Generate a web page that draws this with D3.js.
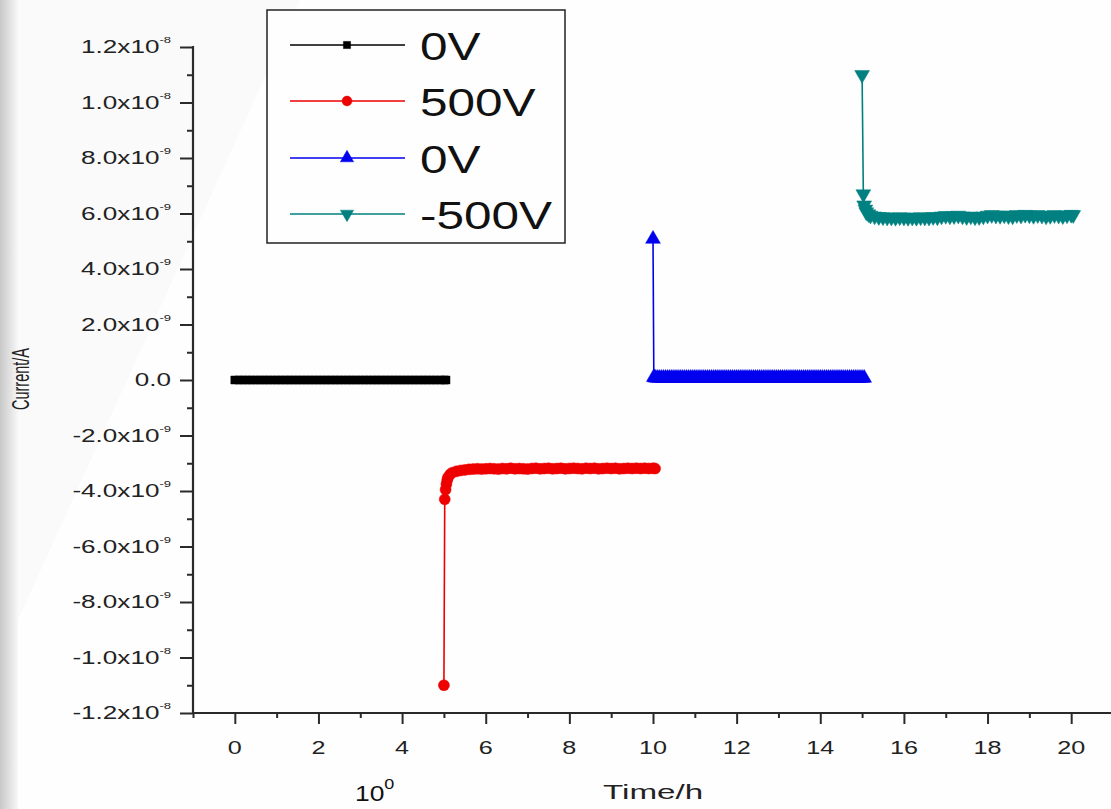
<!DOCTYPE html>
<html><head><meta charset="utf-8">
<script src="https://cdn.jsdelivr.net/npm/d3@7"></script>
<style>html,body{margin:0;padding:0;background:#fdfdfd;overflow:hidden}</style>
</head><body>
<script>
// ---------- DATA (current in nA, time in h) ----------
const seriesNames = ["0V","500V","0V","-500V"];
const seriesColors = ["#000000","#ee0000","#0000ee","#008080"];

const t0V_a = [0,0.1,0.2,0.3,0.4,0.5,0.6,0.7,0.8,0.9,1.0,1.1,1.2,1.3,1.4,1.5,1.6,1.7,1.8,1.9,2.0,2.1,2.2,2.3,2.4,2.5,2.6,2.7,2.8,2.9,3.0,3.1,3.2,3.3,3.4,3.5,3.6,3.7,3.8,3.9,4.0,4.1,4.2,4.3,4.4,4.5,4.6,4.7,4.8,4.9,5.0,5.05];
const i0V_a = [0,0,0,0,0,0,0,0,0,0,0,0,0,0,0,0,0,0,0,0,0,0,0,0,0,0,0,0,0,0,0,0,0,0,0,0,0,0,0,0,0,0,0,0,0,0,0,0,0,0,0,0];

const t500V = [5.0,5.02,5.04,5.06,5.08,5.1,5.15,5.2,5.3,5.4,5.5,5.6,5.7,5.8,5.9,6.0,6.1,6.2,6.3,6.4,6.5,6.6,6.7,6.8,6.9,7.0,7.1,7.2,7.3,7.4,7.5,7.6,7.7,7.8,7.9,8.0,8.1,8.2,8.3,8.4,8.5,8.6,8.7,8.8,8.9,9.0,9.1,9.2,9.3,9.4,9.5,9.6,9.7,9.8,9.9,10.0,10.05];
const i500V = [-11.0,-4.3,-3.95,-3.75,-3.6,-3.5,-3.4,-3.34,-3.29,-3.26,-3.24,-3.22,-3.21,-3.2,-3.21,-3.2,-3.19,-3.2,-3.21,-3.19,-3.2,-3.18,-3.2,-3.19,-3.2,-3.21,-3.19,-3.18,-3.2,-3.19,-3.18,-3.2,-3.19,-3.18,-3.2,-3.19,-3.18,-3.19,-3.2,-3.18,-3.19,-3.18,-3.2,-3.19,-3.18,-3.19,-3.18,-3.2,-3.19,-3.18,-3.19,-3.18,-3.19,-3.18,-3.19,-3.18,-3.19];

const t0V_b = [10.0,10.02,10.05,10.1,10.15,10.2,10.25,10.3,10.35,10.4,10.45,10.5,10.55,10.6,10.65,10.7,10.75,10.8,10.85,10.9,10.95,11.0,11.05,11.1,11.15,11.2,11.25,11.3,11.35,11.4,11.45,11.5,11.55,11.6,11.65,11.7,11.75,11.8,11.85,11.9,11.95,12.0,12.05,12.1,12.15,12.2,12.25,12.3,12.35,12.4,12.45,12.5,12.55,12.6,12.65,12.7,12.75,12.8,12.85,12.9,12.95,13.0,13.05,13.1,13.15,13.2,13.25,13.3,13.35,13.4,13.45,13.5,13.55,13.6,13.65,13.7,13.75,13.8,13.85,13.9,13.95,14.0,14.05,14.1,14.15,14.2,14.25,14.3,14.35,14.4,14.45,14.5,14.55,14.6,14.65,14.7,14.75,14.8,14.85,14.9,14.95,15.0,15.05];
const i0V_b = [5.08,0.1,0.08,0.07,0.07,0.07,0.07,0.07,0.07,0.07,0.07,0.07,0.07,0.07,0.07,0.07,0.07,0.07,0.07,0.07,0.07,0.07,0.07,0.07,0.07,0.07,0.07,0.07,0.07,0.07,0.07,0.07,0.07,0.07,0.07,0.07,0.07,0.07,0.07,0.07,0.07,0.07,0.07,0.07,0.07,0.07,0.07,0.07,0.07,0.07,0.07,0.07,0.07,0.07,0.07,0.07,0.07,0.07,0.07,0.07,0.07,0.07,0.07,0.07,0.07,0.07,0.07,0.07,0.07,0.07,0.07,0.07,0.07,0.07,0.07,0.07,0.07,0.07,0.07,0.07,0.07,0.07,0.07,0.07,0.07,0.07,0.07,0.07,0.07,0.07,0.07,0.07,0.07,0.07,0.07,0.07,0.07,0.07,0.07,0.07,0.07,0.07,0.07];

const tm500V = [15.0,15.03,15.05,15.08,15.1,15.15,15.2,15.3,15.4,15.5,15.6,15.7,15.8,15.9,16.0,16.1,16.2,16.3,16.4,16.5,16.6,16.7,16.8,16.9,17.0,17.1,17.2,17.3,17.4,17.5,17.6,17.7,17.8,17.9,18.0,18.1,18.2,18.3,18.4,18.5,18.6,18.7,18.8,18.9,19.0,19.1,19.2,19.3,19.4,19.5,19.6,19.7,19.8,19.9,20.0,20.05];
const im500V = [11.0,6.7,6.3,6.15,6.05,5.98,5.93,5.9,5.88,5.87,5.86,5.86,5.85,5.87,5.86,5.85,5.86,5.85,5.87,5.86,5.86,5.88,5.87,5.9,5.92,5.9,5.91,5.93,5.9,5.88,5.9,5.87,5.88,5.9,5.93,5.95,5.93,5.92,5.94,5.91,5.9,5.95,5.93,5.96,5.94,5.92,5.95,5.93,5.9,5.92,5.95,5.93,5.91,5.94,5.96,5.95];

const seriesT = [t0V_a, t500V, t0V_b, tm500V];
const seriesI = [i0V_a, i500V, i0V_b, im500V];

const xTicks = [0,2,4,6,8,10,12,14,16,18,20];
const xMinor = [-1,1,3,5,7,9,11,13,15,17,19,21];
const yTicks = [12,10,8,6,4,2,0,-2,-4,-6,-8,-10,-12];
const yMinor = [11,9,7,5,3,1,-1,-3,-5,-7,-9,-11];
const yTickMant = ["1.2x10","1.0x10","8.0x10","6.0x10","4.0x10","2.0x10","0.0","-2.0x10","-4.0x10","-6.0x10","-8.0x10","-1.0x10","-1.2x10"];
const yTickExp  = ["-8","-8","-9","-9","-9","-9","","-9","-9","-9","-9","-8","-8"];
const xTitle = "Time/h", yTitle = "Current/A";

// ---------- DRAW ----------
const W = 1111, H = 809;
const svg = d3.select("body").append("svg").attr("width", W).attr("height", H)
  .style("font-family", "Liberation Sans, Arial, sans-serif");

const defs = svg.append("defs");
const lg = defs.append("linearGradient").attr("id","edge").attr("x1","0").attr("x2","1").attr("y1","0").attr("y2","0");
lg.append("stop").attr("offset","0").attr("stop-color","#c8c8c8");
lg.append("stop").attr("offset","0.6").attr("stop-color","#e4e4e4");
lg.append("stop").attr("offset","1").attr("stop-color","#f8f8f8");
svg.append("rect").attr("width", W).attr("height", H).attr("fill", "#fefefe");
svg.append("path").attr("d","M0,0L300,0L18,620L0,620Z").attr("fill","#fafafa");
svg.append("rect").attr("x",0).attr("y",0).attr("width",18).attr("height",H).attr("fill","url(#edge)");

const x = d3.scaleLinear().domain([-1, 21]).range([193, 1113]);
const y = d3.scaleLinear().domain([-12, 12]).range([713, 47]);

const axisCol = "#2a2a2a";
// Y axis
const yAx = svg.append("g").attr("transform", `translate(${x(-1)},0)`)
  .call(d3.axisLeft(y).tickValues(yTicks).tickSize(13).tickFormat(""));
yAx.append("g").call(d3.axisLeft(y).tickValues(yMinor).tickSize(6).tickFormat(""));
yAx.selectAll("path.domain").remove();
yAx.selectAll("line").attr("stroke", axisCol).attr("stroke-width", 2);
svg.append("line").attr("x1", x(-1)).attr("x2", x(-1)).attr("y1", y(12)-1).attr("y2", y(-12)+1)
  .attr("stroke", axisCol).attr("stroke-width", 2.2);

// X axis
const xAx = svg.append("g").attr("transform", `translate(0,${y(-12)})`)
  .call(d3.axisBottom(x).tickValues(xTicks).tickSize(11).tickFormat(""));
xAx.append("g").call(d3.axisBottom(x).tickValues(xMinor).tickSize(5).tickFormat(""));
xAx.selectAll("path.domain").remove();
xAx.selectAll("line").attr("stroke", axisCol).attr("stroke-width", 2);
svg.append("line").attr("x1", x(-1)-1).attr("x2", W).attr("y1", y(-12)).attr("y2", y(-12))
  .attr("stroke", axisCol).attr("stroke-width", 2.2);

// stretched text helper
function sText(px, py, sx, anchor, size, rot) {
  const g = svg.append("g").attr("transform", `translate(${px},${py}) scale(${sx},1)` + (rot ? ` rotate(${rot})` : ""));
  return g.append("text").attr("text-anchor", anchor).attr("font-size", size).attr("fill", "#222");
}

// Y tick labels
yTicks.forEach((v, i) => {
  const t = sText(171, y(v) + 6, 1.45, "end", 18);
  t.append("tspan").text(yTickMant[i]);
  if (yTickExp[i]) t.append("tspan").attr("dy", -10).attr("font-size", 9).text(yTickExp[i]);
});
// X tick labels
xTicks.forEach(v => {
  sText(x(v), 754, 1.4, "middle", 18).text(v);
});
// Axis titles
sText(603, 799, 1.58, "start", 21).text(xTitle);
sText(29, 379, 1.6, "middle", 14.5, -90).text(yTitle);

// Marker shapes
const symTypes = [d3.symbolSquare, d3.symbolCircle, d3.symbolTriangle, d3.symbolTriangle];
const symSizes = [64, 95, 95, 95];
const symRot = [0, 0, 0, 180];
function marker(g, i, px, py, scale) {
  g.append("path").attr("d", d3.symbol().type(symTypes[i]).size(symSizes[i] * (scale || 1))())
    .attr("transform", `translate(${px},${py}) rotate(${symRot[i]})`)
    .attr("fill", seriesColors[i]).attr("stroke", seriesColors[i]).attr("stroke-width", 0.5);
}

// Series
const line = d3.line().x(d => x(d[0])).y(d => y(d[1]));
seriesT.forEach((ts, i) => {
  const pts = ts.map((t, k) => [t, seriesI[i][k]]);
  const g = svg.append("g");
  g.append("path").attr("d", line(pts)).attr("fill", "none")
    .attr("stroke", seriesColors[i]).attr("stroke-width", 1.6);
  pts.forEach(p => marker(g, i, x(p[0]), y(p[1])));
});

// Legend
const lgG = svg.append("g");
lgG.append("rect").attr("x", 267).attr("y", 10).attr("width", 298).attr("height", 233)
  .attr("fill", "#fefefe").attr("stroke", "#222").attr("stroke-width", 1.5);
const legY = [45, 101, 158, 214];
seriesNames.forEach((nm, i) => {
  lgG.append("line").attr("x1", 290).attr("x2", 405).attr("y1", legY[i]).attr("y2", legY[i])
    .attr("stroke", seriesColors[i]).attr("stroke-width", 1.6);
  marker(lgG, i, 347, legY[i], 0.8);
  sText(420, legY[i] + 15, 1.27, "start", 39).attr("fill", "#111").text(nm);
});

// stray overlay text at the bottom
const ov = sText(355, 801, 1.2, "start", 22).attr("fill", "#111");
ov.append("tspan").text("10");
ov.append("tspan").attr("dy", -12).attr("font-size", 15).text("0");
</script>
</body></html>
